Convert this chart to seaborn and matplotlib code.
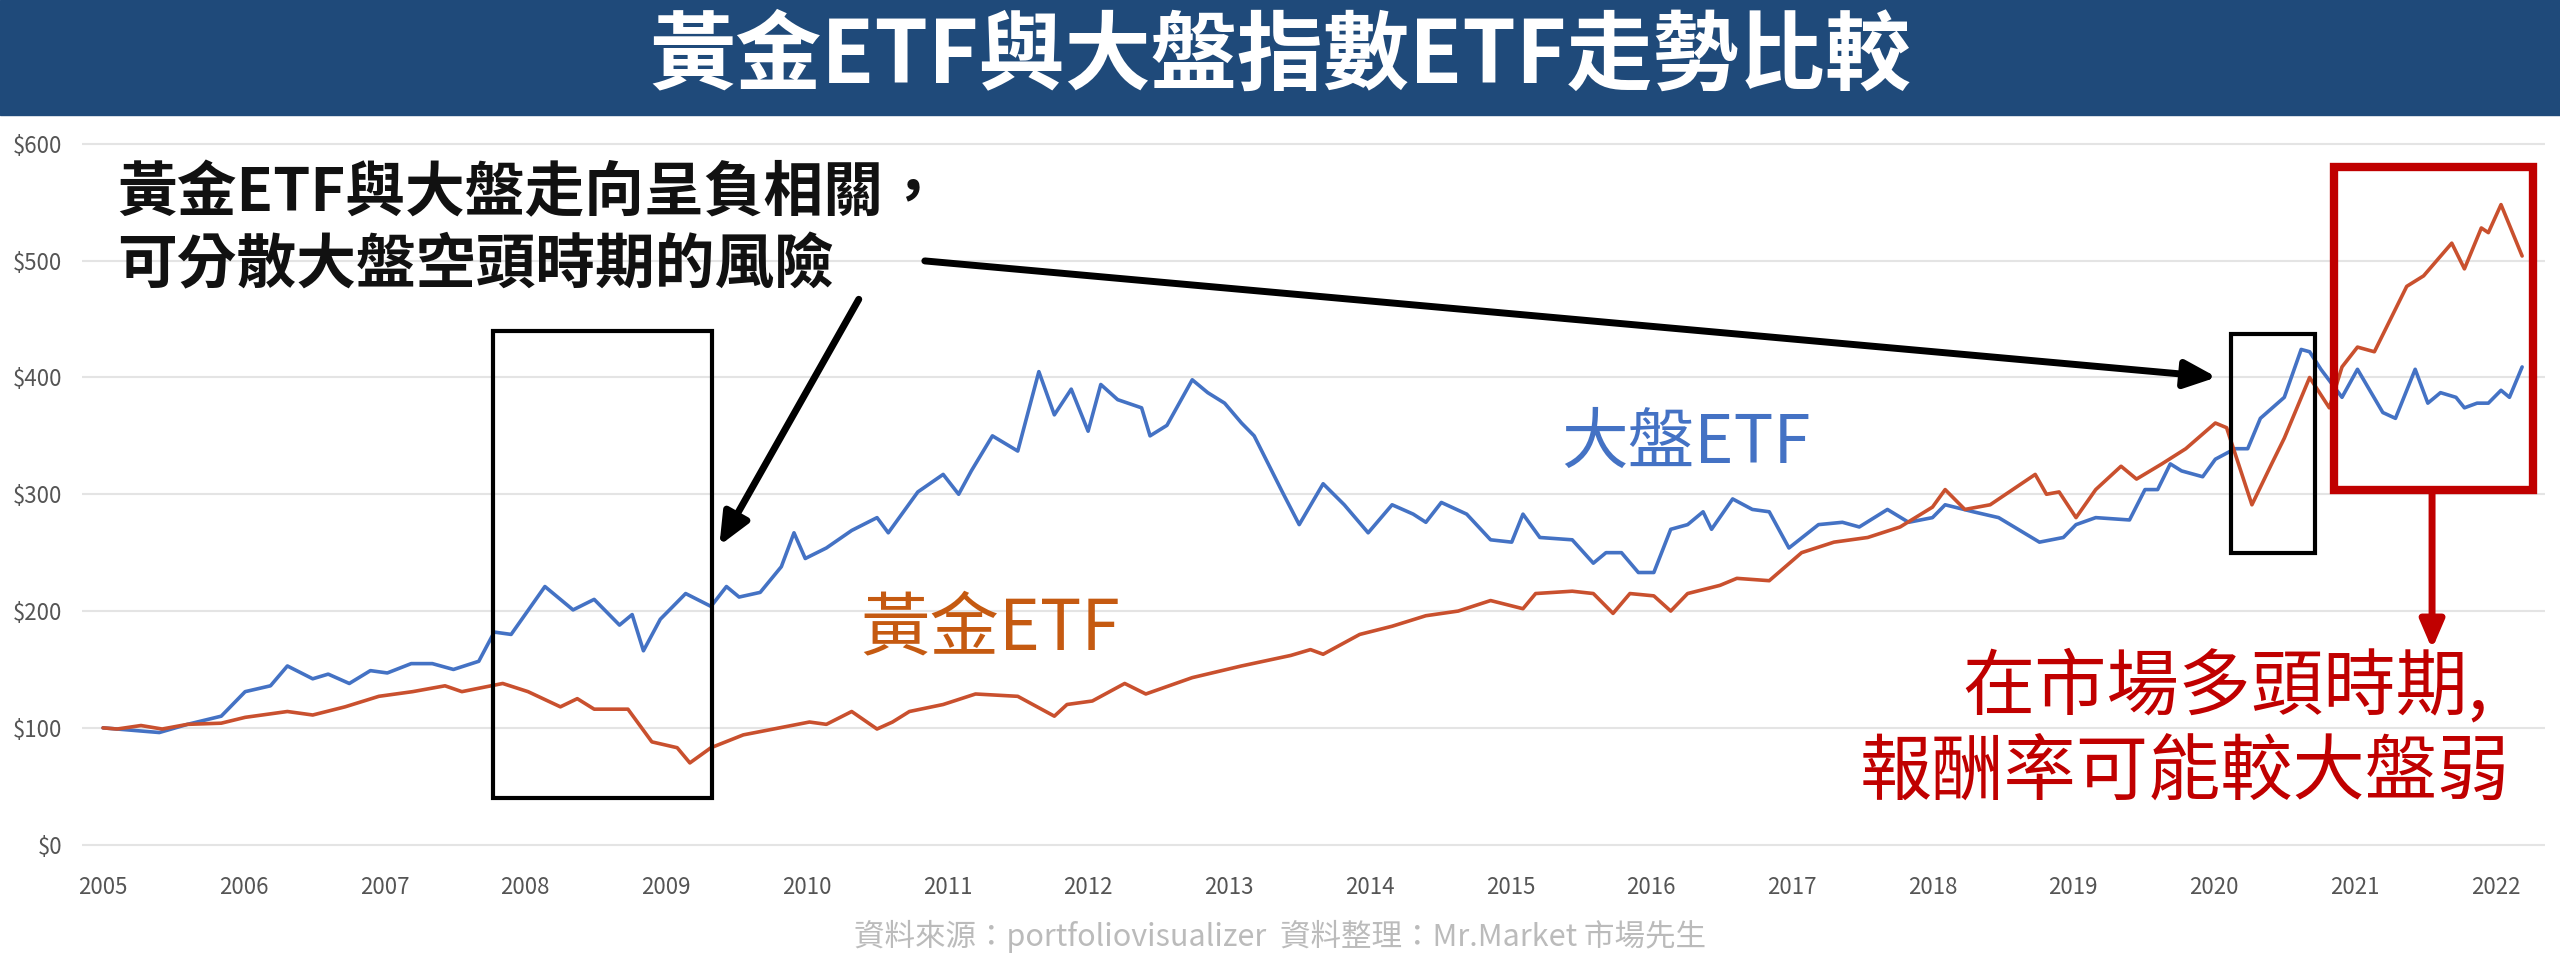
import matplotlib
matplotlib.use("Agg")
import matplotlib.pyplot as plt
import seaborn as sns
import pandas as pd
from matplotlib.patches import Rectangle

blue_years = [2005.0, 2005.40, 2005.60, 2005.84, 2006.01, 2006.19, 2006.31, 2006.49, 2006.60, 2006.75, 2006.90, 2007.02, 2007.19, 2007.34, 2007.49, 2007.67, 2007.78, 2007.90, 2008.14, 2008.34, 2008.49, 2008.67, 2008.76, 2008.84, 2008.96, 2009.14, 2009.32, 2009.43, 2009.52, 2009.67, 2009.82, 2009.91, 2009.99, 2010.14, 2010.32, 2010.50, 2010.58, 2010.79, 2010.97, 2011.08, 2011.17, 2011.32, 2011.50, 2011.65, 2011.76, 2011.88, 2012.00, 2012.09, 2012.21, 2012.38, 2012.44, 2012.56, 2012.74, 2012.85, 2012.97, 2013.09, 2013.18, 2013.38, 2013.50, 2013.67, 2013.82, 2013.99, 2014.16, 2014.31, 2014.40, 2014.51, 2014.69, 2014.86, 2015.01, 2015.09, 2015.21, 2015.44, 2015.59, 2015.68, 2015.79, 2015.91, 2016.02, 2016.14, 2016.26, 2016.37, 2016.43, 2016.58, 2016.72, 2016.84, 2016.98, 2017.19, 2017.36, 2017.48, 2017.68, 2017.83, 2018.00, 2018.09, 2018.29, 2018.47, 2018.76, 2018.93, 2019.02, 2019.16, 2019.40, 2019.51, 2019.60, 2019.69, 2019.77, 2019.92, 2020.01, 2020.15, 2020.24, 2020.33, 2020.50, 2020.62, 2020.68, 2020.76, 2020.91, 2021.02, 2021.20, 2021.29, 2021.43, 2021.52, 2021.61, 2021.72, 2021.78, 2021.87, 2021.95, 2022.04, 2022.10, 2022.19]
blue_values = [100, 96, 103, 110, 131, 136, 153, 142, 146, 138, 149, 147, 155, 155, 150, 157, 182, 180, 221, 201, 210, 188, 197, 166, 193, 215, 204, 221, 212, 216, 238, 267, 245, 254, 269, 280, 267, 302, 317, 300, 320, 350, 337, 405, 368, 390, 354, 394, 381, 374, 350, 359, 398, 387, 378, 361, 350, 302, 274, 309, 291, 267, 291, 283, 276, 293, 283, 261, 259, 283, 263, 261, 241, 250, 250, 233, 233, 270, 274, 285, 270, 296, 287, 285, 254, 274, 276, 272, 287, 276, 280, 291, 285, 280, 259, 263, 274, 280, 278, 304, 304, 326, 320, 315, 330, 339, 339, 365, 383, 424, 422, 407, 383, 407, 370, 365, 407, 378, 387, 383, 374, 378, 378, 389, 383, 409]

red_years = [2005.0, 2005.10, 2005.27, 2005.42, 2005.60, 2005.84, 2006.01, 2006.31, 2006.49, 2006.72, 2006.96, 2007.20, 2007.43, 2007.55, 2007.84, 2008.02, 2008.25, 2008.37, 2008.49, 2008.73, 2008.90, 2009.08, 2009.17, 2009.32, 2009.55, 2009.85, 2010.02, 2010.14, 2010.32, 2010.50, 2010.61, 2010.73, 2010.97, 2011.20, 2011.50, 2011.76, 2011.85, 2012.03, 2012.26, 2012.41, 2012.74, 2013.09, 2013.44, 2013.58, 2013.67, 2013.93, 2014.16, 2014.40, 2014.63, 2014.86, 2015.09, 2015.18, 2015.44, 2015.59, 2015.73, 2015.85, 2016.02, 2016.14, 2016.26, 2016.49, 2016.61, 2016.84, 2017.07, 2017.30, 2017.54, 2017.77, 2018.00, 2018.09, 2018.23, 2018.41, 2018.73, 2018.81, 2018.90, 2019.02, 2019.16, 2019.34, 2019.45, 2019.63, 2019.80, 2020.01, 2020.09, 2020.27, 2020.41, 2020.50, 2020.68, 2020.82, 2020.91, 2021.02, 2021.14, 2021.37, 2021.49, 2021.69, 2021.78, 2021.90, 2021.95, 2022.04, 2022.19]
red_values = [100, 99, 102, 99, 103, 104, 109, 114, 111, 118, 127, 131, 136, 131, 138, 131, 118, 125, 116, 116, 88, 83, 70, 83, 94, 101, 105, 103, 114, 99, 105, 114, 120, 129, 127, 110, 120, 123, 138, 129, 143, 153, 162, 167, 163, 180, 187, 196, 200, 209, 202, 215, 217, 215, 198, 215, 213, 200, 215, 222, 228, 226, 250, 259, 263, 272, 289, 304, 287, 291, 317, 300, 302, 280, 304, 324, 313, 326, 339, 361, 357, 291, 326, 348, 400, 374, 409, 426, 422, 478, 487, 515, 493, 528, 524, 548, 504]

y_ticks = [0, 100, 200, 300, 400, 500, 600]
y_tick_labels = ["$0", "$100", "$200", "$300", "$400", "$500", "$600"]
x_ticks = list(range(2005, 2023))

sns.set_theme(style="white")
plt.rcParams["font.family"] = ["Noto Sans CJK TC", "DejaVu Sans"]

BLUE = "#4472c4"
RED = "#c9502e"

df = pd.concat([
    pd.DataFrame({"year": blue_years, "value": blue_values, "series": "大盤ETF"}),
    pd.DataFrame({"year": red_years, "value": red_values, "series": "黃金ETF"}),
])

fig = plt.figure(figsize=(25.6, 9.72), dpi=100)
fig.patches.append(Rectangle((0, 0.882), 1, 0.118, transform=fig.transFigure,
                             color="#1f4a7a", zorder=0))
fig.text(0.5, 0.941, "黃金ETF與大盤指數ETF走勢比較", color="white", fontsize=62,
         fontweight="bold", ha="center", va="center")

ax = fig.add_axes([0.032, 0.119, 0.962, 0.745])
sns.lineplot(data=df, x="year", y="value", hue="series",
             palette={"大盤ETF": BLUE, "黃金ETF": RED}, linewidth=2.6,
             legend=False, ax=ax, sort=False)
ax.set_xlim(2004.85, 2022.35)
ax.set_ylim(-10, 610)
ax.set_yticks(y_ticks)
ax.set_yticklabels(y_tick_labels)
ax.set_xticks(x_ticks)
ax.set_xticklabels([str(t) for t in x_ticks])
ax.tick_params(axis="both", labelsize=16, colors="#555555", length=0, pad=14)
ax.set_xlabel("")
ax.set_ylabel("")
ax.grid(axis="y", color="#e4e4e4", linewidth=1.5)
for s in ax.spines.values():
    s.set_visible(False)

ax.add_patch(Rectangle((2007.77, 40), 2009.33 - 2007.77, 400, fill=False,
                       edgecolor="black", linewidth=3, zorder=5))
ax.add_patch(Rectangle((2020.12, 250), 0.6, 187, fill=False,
                       edgecolor="black", linewidth=3, zorder=5))
ax.add_patch(Rectangle((2020.85, 304), 1.42, 276, fill=False,
                       edgecolor="#c00000", linewidth=6, zorder=5, clip_on=False))

ax.text(2005.1, 557, "黃金ETF與大盤走向呈負相關，", fontsize=43, fontweight="bold",
        color="#111111", va="center", ha="left")
ax.text(2005.1, 495, "可分散大盤空頭時期的風險", fontsize=43, fontweight="bold",
        color="#111111", va="center", ha="left")

ax.annotate("", xy=(2009.37, 254), xytext=(2010.38, 469),
            arrowprops=dict(arrowstyle="-|>,head_length=1.6,head_width=0.7",
                            color="black", lw=5))
ax.annotate("", xy=(2020.04, 400), xytext=(2010.82, 500),
            arrowprops=dict(arrowstyle="-|>,head_length=1.6,head_width=0.7",
                            color="black", lw=5))
ax.annotate("", xy=(2021.55, 165), xytext=(2021.55, 304),
            arrowprops=dict(arrowstyle="-|>,head_length=1.4,head_width=0.6",
                            color="#c00000", lw=5), annotation_clip=False)

ax.text(2015.36, 343, "大盤ETF", fontsize=48, color=BLUE, va="center", ha="left")
ax.text(2010.38, 184, "黃金ETF", fontsize=50, color="#c55a11", va="center", ha="left")
ax.text(2021.95, 135, "在市場多頭時期,", fontsize=52, color="#c00000", va="center", ha="right")
ax.text(2022.1, 61, "報酬率可能較大盤弱", fontsize=52, color="#c00000", va="center", ha="right")

fig.text(0.5, 0.037, "資料來源：portfoliovisualizer  資料整理：Mr.Market 市場先生",
         fontsize=22, color="#bbbbbb", ha="center", va="center")

fig.savefig("out.png", dpi=100)
